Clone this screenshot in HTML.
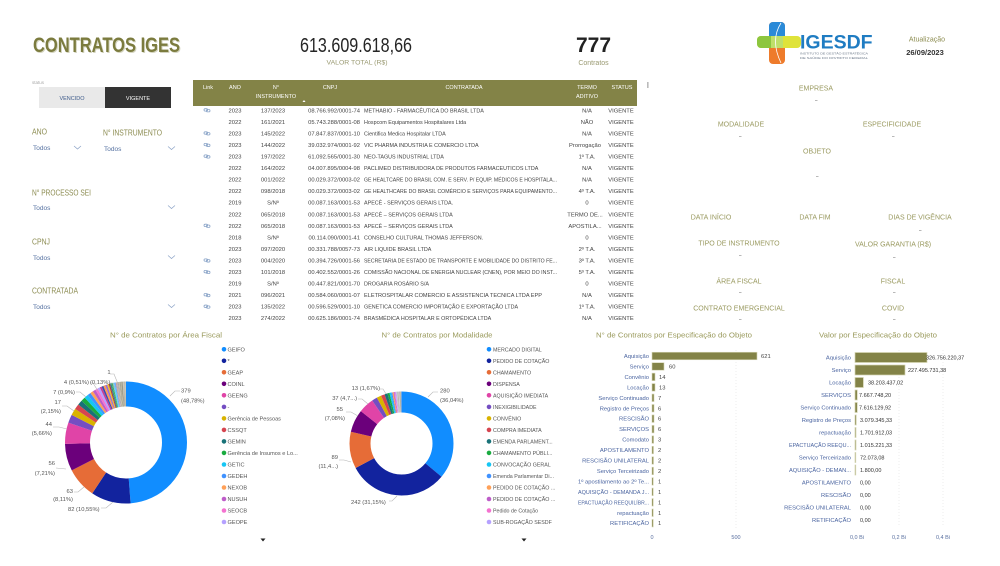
<!DOCTYPE html>
<html><head><meta charset="utf-8">
<style>
html,body{margin:0;padding:0;background:#fff;}
svg{display:block;font-family:"Liberation Sans",sans-serif;}
</style></head><body>
<svg width="1000" height="566" viewBox="0 0 1000 566" xmlns="http://www.w3.org/2000/svg">
<rect width="1000" height="566" fill="#fff"/>

<!-- ===== HEADER ===== -->
<text x="34" y="53" font-size="21" font-weight="bold" fill="#d4d4c0" textLength="147" lengthAdjust="spacingAndGlyphs">CONTRATOS IGES</text>
<text x="33" y="52" font-size="21" font-weight="bold" fill="#7b7b3e" textLength="147" lengthAdjust="spacingAndGlyphs">CONTRATOS IGES</text>

<text x="300" y="52" font-size="20" fill="#252525" textLength="112" lengthAdjust="spacingAndGlyphs">613.609.618,66</text>
<text x="357" y="64.5" font-size="6.5" fill="#9a9a72" text-anchor="middle" textLength="61" lengthAdjust="spacingAndGlyphs">VALOR TOTAL (R$)</text>

<text x="593.5" y="52" font-size="21" font-weight="bold" fill="#222" text-anchor="middle">777</text>
<text x="593.5" y="65" font-size="7" fill="#9a9a72" text-anchor="middle">Contratos</text>

<!-- logo -->
<rect x="769" y="22" width="16" height="42" rx="4" fill="#ee7b2b"/>
<rect x="769" y="22" width="16" height="22" rx="4" fill="#2a8ad8"/>
<rect x="769" y="38" width="16" height="6" fill="#2a8ad8"/>
<rect x="757" y="36" width="44" height="12" rx="4" fill="#dfe33a"/>
<rect x="757" y="36" width="14" height="12" rx="4" fill="#8dc63f"/>
<rect x="766" y="36" width="6" height="12" fill="#8dc63f"/>
<rect x="771" y="36" width="12" height="12" fill="#bfdf6a"/>
<path d="M781 23 Q770 40 781 63" stroke="#fff" stroke-width="0.8" fill="none"/>
<text x="800" y="48.5" font-size="19.5" font-weight="bold" fill="#1f7cc2">IGESDF</text>
<text x="800" y="54.5" font-size="2.6" fill="#6d7a8a" textLength="68" lengthAdjust="spacingAndGlyphs">INSTITUTO DE GESTÃO ESTRATÉGICA</text>
<text x="800" y="59" font-size="2.6" fill="#6d7a8a" textLength="68" lengthAdjust="spacingAndGlyphs">DE SAÚDE DO DISTRITO FEDERAL</text>

<text x="927" y="41.5" font-size="7" fill="#8c8c50" text-anchor="middle">Atualização</text>
<text x="925" y="55" font-size="7.5" font-weight="bold" fill="#333" text-anchor="middle">26/09/2023</text>

<!-- ===== LEFT FILTERS ===== -->
<text x="32" y="84" font-size="4.5" fill="#aaa">status</text>
<rect x="39" y="87" width="66" height="21" fill="#e9e9e9"/>
<rect x="105" y="87" width="66" height="21" fill="#333"/>
<text x="72" y="100" font-size="5.5" fill="#3d5a8a" text-anchor="middle">VENCIDO</text>
<text x="138" y="100" font-size="5.5" fill="#fff" text-anchor="middle">VIGENTE</text>

<g font-size="8.5" fill="#8b8b50">
<text x="32" y="134.5" textLength="15" lengthAdjust="spacingAndGlyphs">ANO</text>
<text x="103" y="135.5" textLength="59" lengthAdjust="spacingAndGlyphs">N° INSTRUMENTO</text>
<text x="32" y="195.5" textLength="59" lengthAdjust="spacingAndGlyphs">N° PROCESSO SEI</text>
<text x="32" y="244.5" textLength="18" lengthAdjust="spacingAndGlyphs">CPNJ</text>
<text x="32" y="293.5" textLength="46" lengthAdjust="spacingAndGlyphs">CONTRATADA</text>
</g>
<g font-size="6.5" fill="#5470a0">
<text x="33" y="150">Todos</text>
<text x="104" y="151">Todos</text>
<text x="33" y="210">Todos</text>
<text x="33" y="260">Todos</text>
<text x="33" y="309">Todos</text>
</g>
<g stroke="#8aa2c6" stroke-width="0.7" fill="none">
<polyline points="74,146 77.5,149 81,146"/>
<polyline points="168,146.5 171.5,149.5 175,146.5"/>
<polyline points="168,205.5 171.5,208.5 175,205.5"/>
<polyline points="168,255.5 171.5,258.5 175,255.5"/>
<polyline points="168,304.5 171.5,307.5 175,304.5"/>
</g>

<!-- ===== TABLE ===== -->
<rect x="193" y="80" width="444" height="26" fill="#838347"/>
<rect x="647" y="82" width="1.6" height="6" fill="#bbb"/>
<g font-size="5.5" fill="#fff" text-anchor="middle">
<text x="208" y="89">Link</text>
<text x="235" y="89">ANO</text>
<text x="276" y="89">N°</text>
<text x="276" y="98">INSTRUMENTO</text>
<text x="330" y="89">CNPJ</text>
<text x="464" y="89">CONTRATADA</text>
<text x="587" y="89">TERMO</text>
<text x="587" y="98">ADITIVO</text>
<text x="622" y="89">STATUS</text>
</g>
<polygon points="302.5,102 305.5,102 304,100" fill="#fff"/>

<defs>
<clipPath id="cc"><rect x="360" y="100" width="202" height="230"/></clipPath>
<g id="lnk"><rect x="-3" y="-1.6" width="3.6" height="2.4" rx="1.2" fill="none" stroke="#8aa4c8" stroke-width="0.8"/><rect x="-0.6" y="-0.8" width="3.6" height="2.4" rx="1.2" fill="none" stroke="#8aa4c8" stroke-width="0.8"/></g>
</defs>

<g font-size="5.8" fill="#444">
<!-- row y baseline = center + 2 -->
<g text-anchor="middle">
<text x="235" y="112.3">2023</text><text x="273" y="112.3">137/2023</text><text x="587" y="112.3">N/A</text><text x="621" y="112.3">VIGENTE</text>
<text x="235" y="123.85">2022</text><text x="273" y="123.85">161/2021</text><text x="587" y="123.85">NÃO</text><text x="621" y="123.85">VIGENTE</text>
<text x="235" y="135.4">2023</text><text x="273" y="135.4">145/2022</text><text x="587" y="135.4">N/A</text><text x="621" y="135.4">VIGENTE</text>
<text x="235" y="146.95">2023</text><text x="273" y="146.95">144/2022</text><text x="585" y="146.95">Prorrogação</text><text x="621" y="146.95">VIGENTE</text>
<text x="235" y="158.5">2023</text><text x="273" y="158.5">197/2022</text><text x="587" y="158.5">1º T.A.</text><text x="621" y="158.5">VIGENTE</text>
<text x="235" y="170.05">2022</text><text x="273" y="170.05">164/2022</text><text x="587" y="170.05">N/A</text><text x="621" y="170.05">VIGENTE</text>
<text x="235" y="181.6">2022</text><text x="273" y="181.6">001/2022</text><text x="587" y="181.6">N/A</text><text x="621" y="181.6">VIGENTE</text>
<text x="235" y="193.15">2022</text><text x="273" y="193.15">098/2018</text><text x="587" y="193.15">4º T.A.</text><text x="621" y="193.15">VIGENTE</text>
<text x="235" y="204.7">2019</text><text x="273" y="204.7">S/Nº</text><text x="587" y="204.7">0</text><text x="621" y="204.7">VIGENTE</text>
<text x="235" y="216.25">2022</text><text x="273" y="216.25">065/2018</text><text x="585" y="216.25">TERMO DE...</text><text x="621" y="216.25">VIGENTE</text>
<text x="235" y="227.8">2022</text><text x="273" y="227.8">065/2018</text><text x="585" y="227.8">APOSTILA...</text><text x="621" y="227.8">VIGENTE</text>
<text x="235" y="239.35">2018</text><text x="273" y="239.35">S/Nº</text><text x="587" y="239.35">0</text><text x="621" y="239.35">VIGENTE</text>
<text x="235" y="250.9">2023</text><text x="273" y="250.9">097/2020</text><text x="587" y="250.9">2º T.A.</text><text x="621" y="250.9">VIGENTE</text>
<text x="235" y="262.45">2023</text><text x="273" y="262.45">004/2020</text><text x="587" y="262.45">3º T.A.</text><text x="621" y="262.45">VIGENTE</text>
<text x="235" y="274">2023</text><text x="273" y="274">101/2018</text><text x="587" y="274">5º T.A.</text><text x="621" y="274">VIGENTE</text>
<text x="235" y="285.55">2019</text><text x="273" y="285.55">S/Nº</text><text x="587" y="285.55">0</text><text x="621" y="285.55">VIGENTE</text>
<text x="235" y="297.1">2021</text><text x="273" y="297.1">096/2021</text><text x="587" y="297.1">N/A</text><text x="621" y="297.1">VIGENTE</text>
<text x="235" y="308.65">2023</text><text x="273" y="308.65">135/2022</text><text x="587" y="308.65">1º T.A.</text><text x="621" y="308.65">VIGENTE</text>
<text x="235" y="320.2">2023</text><text x="273" y="320.2">274/2022</text><text x="587" y="320.2">N/A</text><text x="621" y="320.2">VIGENTE</text>
</g>
<g text-anchor="end">
<text x="360" y="112.3">08.766.992/0001-74</text>
<text x="360" y="123.85">05.743.288/0001-08</text>
<text x="360" y="135.4">07.847.837/0001-10</text>
<text x="360" y="146.95">39.032.974/0001-92</text>
<text x="360" y="158.5">61.092.565/0001-30</text>
<text x="360" y="170.05">04.007.895/0004-98</text>
<text x="360" y="181.6">00.029.372/0003-02</text>
<text x="360" y="193.15">00.029.372/0003-02</text>
<text x="360" y="204.7">00.087.163/0001-53</text>
<text x="360" y="216.25">00.087.163/0001-53</text>
<text x="360" y="227.8">00.087.163/0001-53</text>
<text x="360" y="239.35">00.114.090/0001-41</text>
<text x="360" y="250.9">00.331.788/0057-73</text>
<text x="360" y="262.45">00.394.726/0001-56</text>
<text x="360" y="274">00.402.552/0001-26</text>
<text x="360" y="285.55">00.447.821/0001-70</text>
<text x="360" y="297.1">00.584.060/0001-07</text>
<text x="360" y="308.65">00.596.529/0001-10</text>
<text x="360" y="320.2">00.625.186/0001-74</text>
</g>
<g clip-path="url(#cc)" font-size="5.4">
<text x="364" y="112.3">METHABIO - FARMACÊUTICA DO BRASIL LTDA</text>
<text x="364" y="123.85">Hospcom Equipamentos Hospitalares Ltda</text>
<text x="364" y="135.4">Cientifica Medica Hospitalar LTDA</text>
<text x="364" y="146.95">VIC PHARMA INDUSTRIA E COMERCIO LTDA</text>
<text x="364" y="158.5">NEO-TAGUS INDUSTRIAL LTDA</text>
<text x="364" y="170.05">PACLIMED DISTRIBUIDORA DE PRODUTOS FARMACEUTICOS LTDA</text>
<text x="364" y="181.6" textLength="193" lengthAdjust="spacingAndGlyphs">GE HEALTCARE DO BRASIL COM. E SERV. P/ EQUIP. MÉDICOS E HOSPITALA...</text>
<text x="364" y="193.15" textLength="193" lengthAdjust="spacingAndGlyphs">GE HEALTHCARE DO BRASIL COMÉRCIO E SERVIÇOS PARA EQUIPAMENTO...</text>
<text x="364" y="204.7">APECÊ - SERVIÇOS GERAIS LTDA.</text>
<text x="364" y="216.25">APECÊ – SERVIÇOS GERAIS LTDA</text>
<text x="364" y="227.8">APECÊ – SERVIÇOS GERAIS LTDA</text>
<text x="364" y="239.35">CONSELHO CULTURAL THOMAS JEFFERSON.</text>
<text x="364" y="250.9">AIR LIQUIDE BRASIL LTDA</text>
<text x="364" y="262.45" textLength="193" lengthAdjust="spacingAndGlyphs">SECRETARIA DE ESTADO DE TRANSPORTE E MOBILIDADE DO DISTRITO FE...</text>
<text x="364" y="274" textLength="193" lengthAdjust="spacingAndGlyphs">COMISSÃO NACIONAL DE ENERGIA NUCLEAR (CNEN), POR MEIO DO INST...</text>
<text x="364" y="285.55">DROGARIA ROSÁRIO S/A</text>
<text x="364" y="297.1" textLength="178" lengthAdjust="spacingAndGlyphs">ELETROSPITALAR COMERCIO E ASSISTENCIA TECNICA LTDA EPP</text>
<text x="364" y="308.65">GENETICA COMERCIO IMPORTAÇÃO E EXPORTAÇÃO LTDA</text>
<text x="364" y="320.2">BRASMÉDICA HOSPITALAR E ORTOPÉDICA LTDA</text>
</g>
</g>
<use href="#lnk" x="207" y="110.3"/>
<use href="#lnk" x="207" y="133.4"/>
<use href="#lnk" x="207" y="144.95"/>
<use href="#lnk" x="207" y="156.5"/>
<use href="#lnk" x="207" y="225.8"/>
<use href="#lnk" x="207" y="260.45"/>
<use href="#lnk" x="207" y="272"/>
<use href="#lnk" x="207" y="295.1"/>
<use href="#lnk" x="207" y="306.65"/>

<!-- ===== RIGHT DETAIL PANEL ===== -->
<g font-size="7" fill="#9a9a60" text-anchor="middle">
<text x="816" y="90.5">EMPRESA</text>
<text x="741" y="126.5">MODALIDADE</text>
<text x="892" y="126.5">ESPECIFICIDADE</text>
<text x="817" y="153.5">OBJETO</text>
<text x="711" y="219.5">DATA INÍCIO</text>
<text x="815" y="219.5">DATA FIM</text>
<text x="920" y="219.5">DIAS DE VIGÊNCIA</text>
<text x="739" y="245.5">TIPO DE INSTRUMENTO</text>
<text x="893" y="246.5">VALOR GARANTIA (R$)</text>
<text x="739" y="283.5">ÁREA FISCAL</text>
<text x="893" y="283.5">FISCAL</text>
<text x="739" y="310.5">CONTRATO EMERGENCIAL</text>
<text x="893" y="310.5">COVID</text>
</g>
<g fill="#999">
<rect x="815" y="100" width="2.5" height="0.7"/>
<rect x="739" y="136" width="2.5" height="0.7"/>
<rect x="892" y="136" width="2.5" height="0.7"/>
<rect x="816" y="176" width="2.5" height="0.7"/>
<rect x="919" y="230" width="2.5" height="0.7"/>
<rect x="739" y="255" width="2.5" height="0.7"/>
<rect x="893" y="257" width="2.5" height="0.7"/>
<rect x="739" y="292" width="2.5" height="0.7"/>
<rect x="893" y="292" width="2.5" height="0.7"/>
<rect x="739" y="319" width="2.5" height="0.7"/>
<rect x="893" y="319" width="2.5" height="0.7"/>
</g>

<!-- ===== CHART TITLES ===== -->
<g font-size="7.5" fill="#9a9a5c" text-anchor="middle">
<text x="166" y="337.5" textLength="112" lengthAdjust="spacingAndGlyphs">N° de Contratos por Área Fiscal</text>
<text x="437" y="337.5" textLength="111" lengthAdjust="spacingAndGlyphs">N° de Contratos por Modalidade</text>
<text x="674" y="337.5" textLength="156" lengthAdjust="spacingAndGlyphs">N° de Contratos por Especificação do Objeto</text>
<text x="878" y="337.5" textLength="118" lengthAdjust="spacingAndGlyphs">Valor por Especificação do Objeto</text>
</g>

<!-- ===== DONUT 1 ===== -->
<g transform="rotate(-90 126 442.5)" fill="none" stroke-width="25">
<circle cx="126" cy="442.5" r="48.5" pathLength="777" stroke="#118DFF" stroke-dasharray="379 777" stroke-dashoffset="0"/>
<circle cx="126" cy="442.5" r="48.5" pathLength="777" stroke="#12239E" stroke-dasharray="82 777" stroke-dashoffset="-379"/>
<circle cx="126" cy="442.5" r="48.5" pathLength="777" stroke="#E66C37" stroke-dasharray="63 777" stroke-dashoffset="-461"/>
<circle cx="126" cy="442.5" r="48.5" pathLength="777" stroke="#6B007B" stroke-dasharray="56 777" stroke-dashoffset="-524"/>
<circle cx="126" cy="442.5" r="48.5" pathLength="777" stroke="#E044A7" stroke-dasharray="44 777" stroke-dashoffset="-580"/>
<circle cx="126" cy="442.5" r="48.5" pathLength="777" stroke="#744EC2" stroke-dasharray="17 777" stroke-dashoffset="-624"/>
<circle cx="126" cy="442.5" r="48.5" pathLength="777" stroke="#D9B300" stroke-dasharray="14 777" stroke-dashoffset="-641"/>
<circle cx="126" cy="442.5" r="48.5" pathLength="777" stroke="#D64550" stroke-dasharray="11 777" stroke-dashoffset="-655"/>
<circle cx="126" cy="442.5" r="48.5" pathLength="777" stroke="#197278" stroke-dasharray="10 777" stroke-dashoffset="-666"/>
<circle cx="126" cy="442.5" r="48.5" pathLength="777" stroke="#1AAB40" stroke-dasharray="9 777" stroke-dashoffset="-676"/>
<circle cx="126" cy="442.5" r="48.5" pathLength="777" stroke="#15C6F4" stroke-dasharray="8 777" stroke-dashoffset="-685"/>
<circle cx="126" cy="442.5" r="48.5" pathLength="777" stroke="#4092FF" stroke-dasharray="7 777" stroke-dashoffset="-693"/>
<circle cx="126" cy="442.5" r="48.5" pathLength="777" stroke="#FFA058" stroke-dasharray="6 777" stroke-dashoffset="-700"/>
<circle cx="126" cy="442.5" r="48.5" pathLength="777" stroke="#BE5DC9" stroke-dasharray="6 777" stroke-dashoffset="-706"/>
<circle cx="126" cy="442.5" r="48.5" pathLength="777" stroke="#F472D0" stroke-dasharray="5 777" stroke-dashoffset="-712"/>
<circle cx="126" cy="442.5" r="48.5" pathLength="777" stroke="#B5A1FF" stroke-dasharray="5 777" stroke-dashoffset="-717"/>
<circle cx="126" cy="442.5" r="48.5" pathLength="777" stroke="#C83D95" stroke-dasharray="4 777" stroke-dashoffset="-722"/>
<circle cx="126" cy="442.5" r="48.5" pathLength="777" stroke="#3A4EB0" stroke-dasharray="4 777" stroke-dashoffset="-726"/>
<circle cx="126" cy="442.5" r="48.5" pathLength="777" stroke="#FF994E" stroke-dasharray="4 777" stroke-dashoffset="-730"/>
<circle cx="126" cy="442.5" r="48.5" pathLength="777" stroke="#9C6FD6" stroke-dasharray="4 777" stroke-dashoffset="-734"/>
<circle cx="126" cy="442.5" r="48.5" pathLength="777" stroke="#EDC31E" stroke-dasharray="3 777" stroke-dashoffset="-738"/>
<circle cx="126" cy="442.5" r="48.5" pathLength="777" stroke="#A83A48" stroke-dasharray="3 777" stroke-dashoffset="-741"/>
<circle cx="126" cy="442.5" r="48.5" pathLength="777" stroke="#2F8A8C" stroke-dasharray="3 777" stroke-dashoffset="-744"/>
<circle cx="126" cy="442.5" r="48.5" pathLength="777" stroke="#4FB062" stroke-dasharray="3 777" stroke-dashoffset="-747"/>
<circle cx="126" cy="442.5" r="48.5" pathLength="777" stroke="#5ED6F5" stroke-dasharray="3 777" stroke-dashoffset="-750"/>
<circle cx="126" cy="442.5" r="48.5" pathLength="777" stroke="#6FA8FF" stroke-dasharray="3 777" stroke-dashoffset="-753"/>
<circle cx="126" cy="442.5" r="48.5" pathLength="777" stroke="#C9A98A" stroke-dasharray="2 777" stroke-dashoffset="-756"/>
<circle cx="126" cy="442.5" r="48.5" pathLength="777" stroke="#B8A7C0" stroke-dasharray="2 777" stroke-dashoffset="-758"/>
<circle cx="126" cy="442.5" r="48.5" pathLength="777" stroke="#A9A99A" stroke-dasharray="2 777" stroke-dashoffset="-760"/>
<circle cx="126" cy="442.5" r="48.5" pathLength="777" stroke="#C2BBA5" stroke-dasharray="2 777" stroke-dashoffset="-762"/>
<circle cx="126" cy="442.5" r="48.5" pathLength="777" stroke="#9E9E8C" stroke-dasharray="2 777" stroke-dashoffset="-764"/>
<circle cx="126" cy="442.5" r="48.5" pathLength="777" stroke="#B5B09A" stroke-dasharray="2 777" stroke-dashoffset="-766"/>
<circle cx="126" cy="442.5" r="48.5" pathLength="777" stroke="#8C8C7A" stroke-dasharray="2 777" stroke-dashoffset="-768"/>
<circle cx="126" cy="442.5" r="48.5" pathLength="777" stroke="#C8C2B0" stroke-dasharray="1 777" stroke-dashoffset="-770"/>
<circle cx="126" cy="442.5" r="48.5" pathLength="777" stroke="#A0A090" stroke-dasharray="1 777" stroke-dashoffset="-771"/>
<circle cx="126" cy="442.5" r="48.5" pathLength="777" stroke="#BEB8A0" stroke-dasharray="1 777" stroke-dashoffset="-772"/>
<circle cx="126" cy="442.5" r="48.5" pathLength="777" stroke="#9A968A" stroke-dasharray="1 777" stroke-dashoffset="-773"/>
<circle cx="126" cy="442.5" r="48.5" pathLength="777" stroke="#B0AC98" stroke-dasharray="1 777" stroke-dashoffset="-774"/>
<circle cx="126" cy="442.5" r="48.5" pathLength="777" stroke="#D0CCB8" stroke-dasharray="1 777" stroke-dashoffset="-775"/>
<circle cx="126" cy="442.5" r="48.5" pathLength="777" stroke="#A8A490" stroke-dasharray="1 777" stroke-dashoffset="-776"/>
</g>
<g stroke="#b5b5b5" stroke-width="0.6" fill="none">
<polyline points="170,396 175,391 180,391"/>
<polyline points="101,508 106,508 113,502"/>
<polyline points="74,492 78,492 84,487"/>
<polyline points="56,468 66,469"/>
<polyline points="53,427 59,427 67,429"/>
<polyline points="62,406 67,406 74,411"/>
<polyline points="76,392 80,392 86,397"/>
<polyline points="90,383 93,383 98,391"/>
<polyline points="110,383 113,383 115,388"/>
<polyline points="110,374 114,374 118,384"/>
</g>
<g font-size="5.8" fill="#555">
<text x="181" y="392.5">379</text>
<text x="181" y="402.5">(48,78%)</text>
<text x="68" y="511">82 (10,55%)</text>
<text x="73" y="493" text-anchor="end">63</text>
<text x="73" y="501" text-anchor="end">(8,11%)</text>
<text x="55" y="465" text-anchor="end">56</text>
<text x="55" y="475" text-anchor="end">(7,21%)</text>
<text x="52" y="426" text-anchor="end">44</text>
<text x="52" y="435" text-anchor="end">(5,66%)</text>
<text x="61" y="404" text-anchor="end">17</text>
<text x="61" y="413" text-anchor="end">(2,15%)</text>
<text x="75" y="394" text-anchor="end">7 (0,9%)</text>
<text x="89" y="384" text-anchor="end">4 (0,51%)</text>
<text x="90" y="384">(0,13%)</text>
<text x="109" y="374" text-anchor="middle">1</text>
</g>
<!-- legend 1 -->
<g>
<circle cx="224" cy="349.3" r="2.3" fill="#118DFF"/>
<circle cx="224" cy="360.8" r="2.3" fill="#12239E"/>
<circle cx="224" cy="372.3" r="2.3" fill="#E66C37"/>
<circle cx="224" cy="383.8" r="2.3" fill="#6B007B"/>
<circle cx="224" cy="395.3" r="2.3" fill="#E044A7"/>
<circle cx="224" cy="406.9" r="2.3" fill="#744EC2"/>
<circle cx="224" cy="418.4" r="2.3" fill="#D9B300"/>
<circle cx="224" cy="429.9" r="2.3" fill="#D64550"/>
<circle cx="224" cy="441.4" r="2.3" fill="#197278"/>
<circle cx="224" cy="452.9" r="2.3" fill="#1AAB40"/>
<circle cx="224" cy="464.5" r="2.3" fill="#15C6F4"/>
<circle cx="224" cy="476" r="2.3" fill="#4092FF"/>
<circle cx="224" cy="487.5" r="2.3" fill="#FFA058"/>
<circle cx="224" cy="499" r="2.3" fill="#BE5DC9"/>
<circle cx="224" cy="510.5" r="2.3" fill="#F472D0"/>
<circle cx="224" cy="522" r="2.3" fill="#B5A1FF"/>
</g>
<g font-size="5.6" fill="#555">
<text x="227.5" y="351.3">GEIFO</text>
<text x="227.5" y="362.8">*</text>
<text x="227.5" y="374.3">GEAP</text>
<text x="227.5" y="385.8">COINL</text>
<text x="227.5" y="397.3">GEENG</text>
<text x="227.5" y="408.9">-</text>
<text x="227.5" y="420.4">Gerência de Pessoas</text>
<text x="227.5" y="431.9">CSSQT</text>
<text x="227.5" y="443.4">GEMIN</text>
<text x="227.5" y="454.9">Gerência de Insumos e Lo...</text>
<text x="227.5" y="466.5">GETIC</text>
<text x="227.5" y="478">GEDEH</text>
<text x="227.5" y="489.5">NEXOB</text>
<text x="227.5" y="501">NUSUH</text>
<text x="227.5" y="512.5">SEOCB</text>
<text x="227.5" y="524">GEOPE</text>
</g>
<polygon points="260.5,538.5 265.5,538.5 263,541.5" fill="#222"/>

<!-- ===== DONUT 2 ===== -->
<g transform="rotate(-90 401.5 443.5)" fill="none" stroke-width="21">
<circle cx="401.5" cy="443.5" r="41.5" pathLength="777" stroke="#118DFF" stroke-dasharray="280 777" stroke-dashoffset="0"/>
<circle cx="401.5" cy="443.5" r="41.5" pathLength="777" stroke="#12239E" stroke-dasharray="242 777" stroke-dashoffset="-280"/>
<circle cx="401.5" cy="443.5" r="41.5" pathLength="777" stroke="#E66C37" stroke-dasharray="89 777" stroke-dashoffset="-522"/>
<circle cx="401.5" cy="443.5" r="41.5" pathLength="777" stroke="#6B007B" stroke-dasharray="55 777" stroke-dashoffset="-611"/>
<circle cx="401.5" cy="443.5" r="41.5" pathLength="777" stroke="#E044A7" stroke-dasharray="37 777" stroke-dashoffset="-666"/>
<circle cx="401.5" cy="443.5" r="41.5" pathLength="777" stroke="#744EC2" stroke-dasharray="13 777" stroke-dashoffset="-703"/>
<circle cx="401.5" cy="443.5" r="41.5" pathLength="777" stroke="#D9B300" stroke-dasharray="11 777" stroke-dashoffset="-716"/>
<circle cx="401.5" cy="443.5" r="41.5" pathLength="777" stroke="#D64550" stroke-dasharray="9 777" stroke-dashoffset="-727"/>
<circle cx="401.5" cy="443.5" r="41.5" pathLength="777" stroke="#197278" stroke-dasharray="7 777" stroke-dashoffset="-736"/>
<circle cx="401.5" cy="443.5" r="41.5" pathLength="777" stroke="#1AAB40" stroke-dasharray="5 777" stroke-dashoffset="-743"/>
<circle cx="401.5" cy="443.5" r="41.5" pathLength="777" stroke="#15C6F4" stroke-dasharray="4 777" stroke-dashoffset="-748"/>
<circle cx="401.5" cy="443.5" r="41.5" pathLength="777" stroke="#4092FF" stroke-dasharray="3 777" stroke-dashoffset="-752"/>
<circle cx="401.5" cy="443.5" r="41.5" pathLength="777" stroke="#FFA058" stroke-dasharray="3 777" stroke-dashoffset="-755"/>
<circle cx="401.5" cy="443.5" r="41.5" pathLength="777" stroke="#BE5DC9" stroke-dasharray="2 777" stroke-dashoffset="-758"/>
<circle cx="401.5" cy="443.5" r="41.5" pathLength="777" stroke="#F472D0" stroke-dasharray="2 777" stroke-dashoffset="-760"/>
<circle cx="401.5" cy="443.5" r="41.5" pathLength="777" stroke="#B5A1FF" stroke-dasharray="2 777" stroke-dashoffset="-762"/>
<circle cx="401.5" cy="443.5" r="41.5" pathLength="777" stroke="#C8C0D8" stroke-dasharray="3 777" stroke-dashoffset="-764"/>
<circle cx="401.5" cy="443.5" r="41.5" pathLength="777" stroke="#B8B8B0" stroke-dasharray="3 777" stroke-dashoffset="-767"/>
<circle cx="401.5" cy="443.5" r="41.5" pathLength="777" stroke="#D4C8E0" stroke-dasharray="2 777" stroke-dashoffset="-770"/>
<circle cx="401.5" cy="443.5" r="41.5" pathLength="777" stroke="#A8A8A0" stroke-dasharray="2 777" stroke-dashoffset="-772"/>
<circle cx="401.5" cy="443.5" r="41.5" pathLength="777" stroke="#C4BCA8" stroke-dasharray="2 777" stroke-dashoffset="-774"/>
<circle cx="401.5" cy="443.5" r="41.5" pathLength="777" stroke="#B0A8C8" stroke-dasharray="1 777" stroke-dashoffset="-776"/>
</g>
<g stroke="#b5b5b5" stroke-width="0.6" fill="none">
<polyline points="428,397 433,392 438,392"/>
<polyline points="389,501 392,501 397,496"/>
<polyline points="339,460 344,460 351,462"/>
<polyline points="346,412 351,412 358,416"/>
<polyline points="358,399 362,399 368,404"/>
<polyline points="380,389 383,389 386,394"/>
</g>
<g font-size="5.8" fill="#555">
<text x="440" y="392.7">280</text>
<text x="440" y="402">(36,04%)</text>
<text x="351" y="504">242 (31,15%)</text>
<text x="338" y="459" text-anchor="end">89</text>
<text x="338" y="468" text-anchor="end">(11,4...)</text>
<text x="343" y="411" text-anchor="end">55</text>
<text x="345" y="420" text-anchor="end">(7,08%)</text>
<text x="357" y="400" text-anchor="end">37 (4,7...)</text>
<text x="380" y="390" text-anchor="end">13 (1,67%)</text>
</g>
<!-- legend 2 -->
<g>
<circle cx="489" cy="349.3" r="2.3" fill="#118DFF"/>
<circle cx="489" cy="360.8" r="2.3" fill="#12239E"/>
<circle cx="489" cy="372.3" r="2.3" fill="#E66C37"/>
<circle cx="489" cy="383.8" r="2.3" fill="#6B007B"/>
<circle cx="489" cy="395.3" r="2.3" fill="#E044A7"/>
<circle cx="489" cy="406.9" r="2.3" fill="#744EC2"/>
<circle cx="489" cy="418.4" r="2.3" fill="#D9B300"/>
<circle cx="489" cy="429.9" r="2.3" fill="#D64550"/>
<circle cx="489" cy="441.4" r="2.3" fill="#197278"/>
<circle cx="489" cy="452.9" r="2.3" fill="#1AAB40"/>
<circle cx="489" cy="464.5" r="2.3" fill="#15C6F4"/>
<circle cx="489" cy="476" r="2.3" fill="#4092FF"/>
<circle cx="489" cy="487.5" r="2.3" fill="#FFA058"/>
<circle cx="489" cy="499" r="2.3" fill="#BE5DC9"/>
<circle cx="489" cy="510.5" r="2.3" fill="#F472D0"/>
<circle cx="489" cy="522" r="2.3" fill="#B5A1FF"/>
</g>
<g font-size="5.3" fill="#555">
<text x="493" y="351.3">MERCADO DIGITAL</text>
<text x="493" y="362.8">PEDIDO DE COTAÇÃO</text>
<text x="493" y="374.3">CHAMAMENTO</text>
<text x="493" y="385.8">DISPENSA</text>
<text x="493" y="397.3">AQUISIÇÃO IMEDIATA</text>
<text x="493" y="408.9">INEXIGIBILIDADE</text>
<text x="493" y="420.4">CONVÊNIO</text>
<text x="493" y="431.9">COMPRA IMEDIATA</text>
<text x="493" y="443.4">EMENDA PARLAMENT...</text>
<text x="493" y="454.9">CHAMAMENTO PÚBLI...</text>
<text x="493" y="466.5">CONVOCAÇÃO GERAL</text>
<text x="493" y="478">Emenda Parlamentar Di...</text>
<text x="493" y="489.5">PEDIDO DE COTAÇÃO ...</text>
<text x="493" y="501">PEDIDO DE COTAÇÃO ...</text>
<text x="493" y="512.5">Pedido de Cotação</text>
<text x="493" y="524">SUB-ROGAÇÃO SESDF</text>
</g>
<polygon points="521.5,538.5 526.5,538.5 524,541.5" fill="#222"/>

<!-- ===== BAR CHART 3 ===== -->
<line x1="736" y1="350" x2="736" y2="528" stroke="#e2e2e2" stroke-width="0.6" stroke-dasharray="1 2"/>
<g fill="#838347" stroke="#d6d6b4" stroke-width="0.6">
<rect x="652" y="352.25" width="105" height="7.5"/>
<rect x="652" y="362.7" width="12" height="7.5"/>
<rect x="652" y="373.15" width="3" height="7.5"/>
<rect x="652" y="383.6" width="3" height="7.5"/>
<rect x="652" y="394.05" width="2" height="7.5"/>
<rect x="652" y="404.5" width="2" height="7.5"/>
<rect x="652" y="414.95" width="2" height="7.5"/>
<rect x="652" y="425.4" width="2" height="7.5"/>
<rect x="652" y="435.85" width="1.6" height="7.5"/>
<rect x="652" y="446.3" width="1.5" height="7.5"/>
<rect x="652" y="456.75" width="1.5" height="7.5"/>
<rect x="652" y="467.2" width="1.5" height="7.5"/>
<rect x="652" y="477.65" width="1.3" height="7.5"/>
<rect x="652" y="488.1" width="1.3" height="7.5"/>
<rect x="652" y="498.55" width="1.3" height="7.5"/>
<rect x="652" y="509" width="1.3" height="7.5"/>
<rect x="652" y="519.45" width="1.3" height="7.5"/>
</g>
<g font-size="5.8" fill="#4a64a0" text-anchor="end">
<text x="649" y="358">Aquisição</text>
<text x="649" y="368.45">Serviço</text>
<text x="649" y="378.9">Convênio</text>
<text x="649" y="389.35">Locação</text>
<text x="649" y="399.8">Serviço Continuado</text>
<text x="649" y="410.25">Registro de Preços</text>
<text x="649" y="420.7">RESCISÃO</text>
<text x="649" y="431.15">SERVIÇOS</text>
<text x="649" y="441.6">Comodato</text>
<text x="649" y="452.05">APOSTILAMENTO</text>
<text x="649" y="462.5">RESCISÃO UNILATERAL</text>
<text x="649" y="472.95">Serviço Terceirizado</text>
<text x="649" y="483.4" textLength="71" lengthAdjust="spacingAndGlyphs">1º apostilamento ao 2º Te...</text>
<text x="649" y="493.85" textLength="71" lengthAdjust="spacingAndGlyphs">AQUISIÇÃO - DEMANDA J...</text>
<text x="649" y="504.3" textLength="71" lengthAdjust="spacingAndGlyphs">EPACTUAÇÃO REEQUILÍBR...</text>
<text x="649" y="514.75">repactuação</text>
<text x="649" y="525.2">RETIFICAÇÃO</text>
</g>
<g font-size="5.8" fill="#444">
<text x="761" y="358">621</text>
<text x="669" y="368.45">60</text>
<text x="659" y="378.9">14</text>
<text x="659" y="389.35">13</text>
<text x="658" y="399.8">7</text>
<text x="658" y="410.25">6</text>
<text x="658" y="420.7">6</text>
<text x="658" y="431.15">6</text>
<text x="658" y="441.6">3</text>
<text x="658" y="452.05">2</text>
<text x="658" y="462.5">2</text>
<text x="658" y="472.95">2</text>
<text x="658" y="483.4">1</text>
<text x="658" y="493.85">1</text>
<text x="658" y="504.3">1</text>
<text x="658" y="514.75">1</text>
<text x="658" y="525.2">1</text>
</g>
<g font-size="5.5" fill="#5a70a0" text-anchor="middle">
<text x="652" y="539">0</text>
<text x="736" y="539">500</text>
</g>

<!-- ===== BAR CHART 4 ===== -->
<line x1="899" y1="350" x2="899" y2="527" stroke="#e2e2e2" stroke-width="0.6" stroke-dasharray="1 2"/>
<line x1="943" y1="350" x2="943" y2="527" stroke="#e2e2e2" stroke-width="0.6" stroke-dasharray="1 2"/>
<g fill="#838347" stroke="#d6d6b4" stroke-width="0.7">
<rect x="855" y="352.5" width="72" height="10"/>
<rect x="855" y="365" width="50" height="10"/>
<rect x="855" y="377.5" width="8.4" height="10"/>
<rect x="855" y="390" width="2.3" height="10"/>
<rect x="855" y="402.5" width="2.3" height="10"/>
<rect x="855" y="415" width="1.3" height="10"/>
<rect x="855" y="427.5" width="1" height="10"/>
<rect x="855" y="440" width="1" height="10"/>
<rect x="855" y="452.5" width="0.8" height="10"/>
<rect x="855" y="465" width="0.8" height="10"/>
</g>
<g font-size="5.8" fill="#4a64a0" text-anchor="end">
<text x="851" y="359.5">Aquisição</text>
<text x="851" y="372">Serviço</text>
<text x="851" y="384.5">Locação</text>
<text x="851" y="397">SERVIÇOS</text>
<text x="851" y="409.5">Serviço Continuado</text>
<text x="851" y="422">Registro de Preços</text>
<text x="851" y="434.5">repactuação</text>
<text x="851" y="447" textLength="62" lengthAdjust="spacingAndGlyphs">EPACTUAÇÃO REEQU...</text>
<text x="851" y="459.5">Serviço Terceirizado</text>
<text x="851" y="472" textLength="62" lengthAdjust="spacingAndGlyphs">AQUISIÇÃO - DEMAN...</text>
<text x="851" y="484.5">APOSTILAMENTO</text>
<text x="851" y="497">RESCISÃO</text>
<text x="851" y="509.5">RESCISÃO UNILATERAL</text>
<text x="851" y="522">RETIFICAÇÃO</text>
</g>
<g font-size="5.5" fill="#333">
<text x="926" y="359.5">326.756.220,37</text>
<text x="908" y="372">227.495.731,38</text>
<text x="868" y="384.5">38.203.437,02</text>
<text x="859" y="397">7.667.748,20</text>
<text x="859" y="409.5">7.616.129,92</text>
<text x="860" y="422">3.079.345,33</text>
<text x="860" y="434.5">1.701.912,03</text>
<text x="860" y="447">1.015.221,33</text>
<text x="860" y="459.5">72.073,08</text>
<text x="860" y="472">1.800,00</text>
<text x="860" y="484.5">0,00</text>
<text x="860" y="497">0,00</text>
<text x="860" y="509.5">0,00</text>
<text x="860" y="522">0,00</text>
</g>
<g font-size="5.5" fill="#5a70a0" text-anchor="middle">
<text x="857" y="539">0,0 Bi</text>
<text x="899" y="539">0,2 Bi</text>
<text x="943" y="539">0,4 Bi</text>
</g>

</svg>
</body></html>
